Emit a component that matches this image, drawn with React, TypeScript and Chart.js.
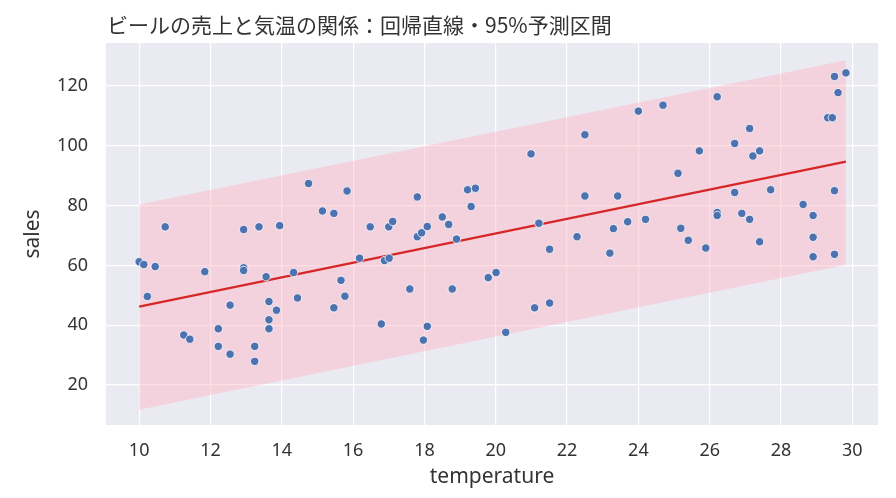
import { useEffect, useRef } from "react";
import { Chart, registerables, ChartConfiguration, Plugin } from "chart.js";

Chart.register(...registerables);

const titleText = "ビールの売上と気温の関係：回帰直線・95%予測区間";

// observed points (temperature, sales)
const temperature = [
  10.0, 10.13, 10.45, 10.23, 10.73, 11.25, 11.42, 11.84, 12.22, 12.22,
  12.55, 12.55, 12.93, 12.93, 12.93, 13.24, 13.24, 13.36, 13.56, 13.64,
  13.64, 13.64, 13.85, 13.94, 14.33, 14.44, 14.75, 15.14, 15.46, 15.46,
  15.66, 15.77, 15.83, 16.18, 16.48, 16.79, 16.88, 17.01, 17.0, 17.11,
  17.59, 17.8, 17.8, 17.92, 17.97, 18.08, 18.08, 18.5, 18.68, 18.78,
  18.9, 19.21, 19.43, 19.31, 19.79, 20.01, 20.28, 20.99, 21.09, 21.21,
  21.51, 21.51, 22.28, 22.5, 22.5, 23.2, 23.3, 23.42, 23.7, 24.0,
  24.2, 24.69, 25.11, 25.19, 25.4, 25.71, 25.89, 26.21, 26.21, 26.21,
  26.7, 26.7, 26.9, 27.12, 27.12, 27.21, 27.4, 27.4, 27.71, 28.62,
  28.9, 28.9, 28.9, 29.31, 29.44, 29.5, 29.6, 29.5, 29.5, 29.82,
];
const sales = [
  61.2, 60.3, 59.6, 49.6, 72.9, 36.7, 35.3, 57.9, 38.8, 32.9,
  46.7, 30.3, 72.0, 59.2, 58.3, 32.9, 27.9, 72.9, 56.2, 47.9,
  41.8, 38.8, 45.0, 73.3, 57.6, 49.1, 87.4, 78.2, 77.4, 45.8,
  55.0, 49.7, 84.9, 62.4, 72.9, 40.4, 61.6, 62.4, 72.9, 74.7,
  52.1, 82.9, 69.6, 70.9, 35.0, 39.6, 73.0, 76.2, 73.7, 52.1,
  68.8, 85.3, 85.8, 79.7, 55.9, 57.6, 37.6, 97.3, 45.8, 74.1,
  65.4, 47.4, 69.6, 103.7, 83.2, 64.1, 72.3, 83.2, 74.6, 111.6,
  75.4, 113.6, 90.8, 72.4, 68.4, 98.3, 65.8, 116.4, 77.7, 76.7,
  100.8, 84.4, 77.4, 105.8, 75.4, 96.6, 98.3, 67.9, 85.3, 80.4,
  76.7, 69.4, 62.9, 109.4, 109.4, 123.2, 117.8, 85.0, 63.7, 124.4,
];

// regression line and 95% prediction band, read at the ends
const fitTemp = [10.0, 29.82];
const fitSales = [46.2, 94.7];
const bandUpper = [80.4, 128.6];
const bandLower = [11.7, 60.2];

const xTicks = [10, 12, 14, 16, 18, 20, 22, 24, 26, 28, 30];
const yTicks = [20, 40, 60, 80, 100, 120];

const textColor = "#333333";

const bgPlugin: Plugin = {
  id: "darkgrid",
  beforeDraw(chart) {
    const { ctx, chartArea } = chart;
    ctx.save();
    ctx.fillStyle = "#EAEAF2";
    ctx.fillRect(chartArea.left, chartArea.top, chartArea.right - chartArea.left, chartArea.bottom - chartArea.top);
    ctx.restore();
  },
  afterDraw(chart) {
    const { ctx, chartArea } = chart;
    ctx.save();
    ctx.fillStyle = textColor;
    ctx.font = '21px "Noto Sans CJK JP"';
    ctx.textBaseline = "middle";
    ctx.textAlign = "left";
    ctx.fillText(titleText, chartArea.left + 1, 25);
    ctx.restore();
  },
};

export default function App() {
  const canvasRef = useRef<HTMLCanvasElement>(null);

  useEffect(() => {
    document.body.style.margin = "0";
    if (!canvasRef.current) return;

    const points = temperature.map((t, i) => ({ x: t, y: sales[i] }));
    const line = fitTemp.map((t, i) => ({ x: t, y: fitSales[i] }));
    const lower = fitTemp.map((t, i) => ({ x: t, y: bandLower[i] }));
    const upper = fitTemp.map((t, i) => ({ x: t, y: bandUpper[i] }));

    const config: ChartConfiguration = {
      type: "scatter",
      data: {
        datasets: [
          {
            label: "sales",
            data: points,
            order: 0,
            backgroundColor: "#4C72B0",
            borderColor: "#ffffff",
            borderWidth: 0.8,
            pointRadius: 4.2,
          },
          {
            type: "line",
            label: "fit",
            data: line,
            order: 1,
            borderColor: "#d62728",
            borderWidth: 2.2,
            pointRadius: 0,
            fill: false,
          },
          {
            type: "line",
            label: "lower",
            data: lower,
            order: 2,
            borderWidth: 0,
            pointRadius: 0,
            fill: false,
          },
          {
            type: "line",
            label: "upper",
            data: upper,
            order: 3,
            borderWidth: 0,
            pointRadius: 0,
            backgroundColor: "rgba(255, 182, 196, 0.45)",
            fill: { target: 2 },
          },
        ],
      } as any,
      options: {
        responsive: false,
        animation: false,
        layout: { padding: { left: 0, top: 43, right: 18, bottom: 0 } },
        plugins: {
          legend: { display: false },
          tooltip: { enabled: false },
        },
        scales: {
          x: {
            type: "linear",
            min: 9.07,
            max: 30.72,
            afterBuildTicks: (scale) => {
              scale.ticks = xTicks.map((v) => ({ value: v }));
            },
            afterFit: (scale) => {
              scale.height = 73;
            },
            grid: { color: "#ffffff", lineWidth: 1.2, drawTicks: false },
            border: { display: false },
            ticks: {
              color: textColor,
              padding: 15,
              font: { family: "Noto Sans", size: 18 },
            },
            title: {
              display: true,
              text: "temperature",
              color: textColor,
              font: { family: "Noto Sans", size: 21 },
              padding: { top: 0, bottom: 8 },
            },
          },
          y: {
            type: "linear",
            min: 6.6,
            max: 134.4,
            afterBuildTicks: (scale) => {
              scale.ticks = yTicks.map((v) => ({ value: v }));
            },
            afterFit: (scale) => {
              scale.width = 106;
            },
            grid: { color: "#ffffff", lineWidth: 1.2, drawTicks: false },
            border: { display: false },
            ticks: {
              color: textColor,
              padding: 18,
              font: { family: "Noto Sans", size: 18 },
            },
            title: {
              display: true,
              text: "sales",
              color: textColor,
              font: { family: "Noto Sans", size: 21 },
              padding: { top: 20, bottom: 0 },
            },
          },
        },
      },
      plugins: [bgPlugin],
    };

    const chart = new Chart(canvasRef.current, config);
    return () => chart.destroy();
  }, []);

  return (
    <div style={{ width: 896, height: 498 }}>
      <canvas ref={canvasRef} width={896} height={498} />
    </div>
  );
}
